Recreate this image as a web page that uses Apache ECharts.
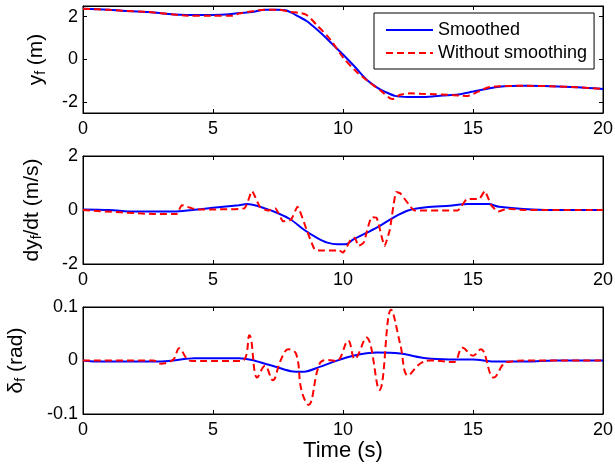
<!DOCTYPE html>
<html><head><meta charset="utf-8">
<script src="https://cdn.jsdelivr.net/npm/echarts@6/dist/echarts.min.js"></script>
<style>html,body{margin:0;padding:0;background:#fff}#c{width:615px;height:464px}</style>
</head><body><div id="c"></div>
<script>
// ---- Data ----
const xTicks = [0, 5, 10, 15, 20];
const yfTicks = [-2, 0, 2];
const dyTicks = [-2, 0, 2];
const dfTicks = [-0.1, 0, 0.1];

// Lateral position y_f (m)
const yfSmoothT = [0,1,1.5,2.5,3.5,4,5,5.5,6,6.5,7,7.5,7.8,8,8.3,8.6,9,9.4,10,10.5,10.9,11.3,11.6,12,12.5,13,13.5,14,14.5,15,15.5,16,17,18,19,20];
const yfSmoothV = [2.37,2.32,2.28,2.22,2.1,2.08,2.08,2.1,2.17,2.22,2.33,2.33,2.3,2.2,2.0,1.8,1.4,0.95,0.23,-0.4,-0.93,-1.3,-1.5,-1.7,-1.75,-1.75,-1.72,-1.67,-1.62,-1.5,-1.38,-1.27,-1.23,-1.25,-1.3,-1.38];
const yfRawT = [0,1,1.5,2.5,3.5,4,5,5.8,6,6.5,7,7.5,8,8.3,8.6,9,9.5,10,10.5,11,11.5,11.9,12.2,12.6,13,13.5,14,14.5,14.8,15.2,15.6,16,17,18,19,20];
const yfRawV = [2.37,2.32,2.28,2.22,2.1,2.05,2.05,2.05,2.15,2.25,2.33,2.33,2.22,2.18,2.08,1.6,0.95,0.1,-0.55,-1.05,-1.5,-1.85,-1.65,-1.58,-1.6,-1.62,-1.65,-1.68,-1.7,-1.5,-1.3,-1.25,-1.23,-1.25,-1.3,-1.38];

// Lateral velocity dy_f/dt (m/s)
const dySmoothT = [0,1,2,3.5,4.2,5,6,6.3,7,7.5,8,8.5,9,9.4,9.8,10.1,10.4,10.9,11.4,11.9,12.5,13.2,14.1,14.8,15.6,16,17.3,18.5,20];
const dySmoothV = [0.02,0,-0.06,-0.06,0,0.08,0.18,0.22,0.06,-0.12,-0.36,-0.73,-1.03,-1.21,-1.27,-1.27,-1.09,-0.85,-0.6,-0.3,-0.02,0.1,0.16,0.22,0.22,0.12,0.02,0,0];
const dyRawT = [0,2.8,3.6,3.8,4.2,4.5,6.2,6.5,6.8,7.1,7.4,7.7,8.0,8.25,8.6,8.9,9.1,9.85,10.0,10.3,10.45,10.6,10.8,11.1,11.3,11.6,11.8,12.05,12.2,12.6,12.75,14.4,14.75,15.25,15.45,15.7,15.97,16.3,17,20];
const dyRawV = [0,-0.15,-0.15,0.18,0.06,0.02,0.06,0.7,0.12,-0.02,0.06,-0.42,-0.36,0.12,-0.73,-1.45,-1.5,-1.5,-1.58,-1.09,-1.03,-1.33,-1.2,-0.27,-0.3,-1.33,-0.73,0.67,0.62,0.12,-0.02,-0.02,0.39,0.42,0.7,0.18,-0.06,0.05,0,0];

// Steering angle delta_f (rad)
const dfSmoothT = [0,0.5,2.7,3.3,4.3,6,6.5,7,7.5,8,8.5,9.1,9.6,10.4,11.3,12.2,13.2,14.1,15,15.8,17.1,18.1,20];
const dfSmoothV = [0,-0.002,-0.002,-0.001,0.004,0.004,0.001,-0.006,-0.013,-0.02,-0.021,-0.012,-0.003,0.009,0.015,0.013,0.004,0.002,0.002,-0.002,-0.002,0,0];
const dfRawT = [0,2.7,3.0,3.3,3.5,3.7,4.0,4.2,6.1,6.4,6.7,7.0,7.3,7.6,7.9,8.2,8.4,8.67,9.1,9.4,9.75,10.2,10.45,10.9,11.4,11.85,12.2,12.5,12.96,13.35,14.25,14.6,15.0,15.3,15.8,16.3,17.3,20];
const dfRawV = [0,0,-0.006,-0.003,0.003,0.023,0.003,-0.001,-0.001,0.047,-0.032,-0.01,-0.037,0,0.021,0.012,-0.055,-0.083,-0.006,0.001,-0.001,0.037,0.003,0.043,-0.055,0.095,0.031,-0.028,-0.006,0,-0.003,0.024,0.009,0.021,-0.032,-0.003,0,0];

const zip = (t, v) => t.map((x, i) => [x, v[i]]);

// ---- Layout ----
const FONT = 'Liberation Sans, Arial, sans-serif';
const grids = [
  {left: 83, top: 6, width: 520, height: 107},
  {left: 83, top: 156, width: 520, height: 108},
  {left: 83, top: 307, width: 520, height: 107}
];
const yRanges = [[-2.5, 2.5], [-2, 2], [-0.1, 0.1]];
const yTickSets = [yfTicks, dyTicks, dfTicks];
const yNames = ['y{sub|f} (m)', 'dy{sub|f}/dt (m/s)', '\u03b4{sub|f} (rad)'];
const yGaps = [35, 39, 55];

const xAxes = [], yAxes = [];
grids.forEach((g, i) => {
  xAxes.push({
    gridIndex: i, type: 'value', min: 0, max: 20, position: 'bottom',
    axisLine: {show: true, onZero: false, lineStyle: {color: '#000', width: 1}},
    axisTick: {show: true, inside: true, length: 4, customValues: xTicks, lineStyle: {color: '#000'}},
    axisLabel: {show: true, customValues: xTicks, color: '#000', fontSize: 18, fontFamily: FONT, margin: 7},
    splitLine: {show: false},
    name: i === 2 ? 'Time (s)' : '', nameLocation: 'middle', nameGap: 25,
    nameTextStyle: {color: '#000', fontSize: 22, fontFamily: FONT}
  });
  xAxes.push({
    gridIndex: i, type: 'value', min: 0, max: 20, position: 'top',
    axisLine: {show: true, onZero: false, lineStyle: {color: '#000', width: 1}},
    axisTick: {show: true, inside: true, length: 4, customValues: xTicks, lineStyle: {color: '#000'}},
    axisLabel: {show: false}, splitLine: {show: false}
  });
  yAxes.push({
    gridIndex: i, type: 'value', min: yRanges[i][0], max: yRanges[i][1], position: 'left',
    axisLine: {show: true, onZero: false, lineStyle: {color: '#000', width: 1}},
    axisTick: {show: true, inside: true, length: 4, customValues: yTickSets[i], lineStyle: {color: '#000'}},
    axisLabel: {show: true, customValues: yTickSets[i], color: '#000', fontSize: 18, fontFamily: FONT, margin: 5},
    splitLine: {show: false},
    name: yNames[i], nameLocation: 'middle', nameRotate: 90, nameGap: yGaps[i],
    nameTextStyle: {color: '#000', fontSize: 21, fontFamily: FONT,
      rich: {sub: {fontSize: 14, fontFamily: FONT, color: '#000', padding: [10, 0, 0, 0]}}}
  });
  yAxes.push({
    gridIndex: i, type: 'value', min: yRanges[i][0], max: yRanges[i][1], position: 'right',
    axisLine: {show: true, onZero: false, lineStyle: {color: '#000', width: 1}},
    axisTick: {show: true, inside: true, length: 4, customValues: yTickSets[i], lineStyle: {color: '#000'}},
    axisLabel: {show: false}, splitLine: {show: false}
  });
});

const blue = '#0000ff', red = '#ff0000';
const mk = (name, gi, data, color, dashed, smooth) => ({
  name, type: 'line', xAxisIndex: gi * 2, yAxisIndex: gi * 2, data,
  symbol: 'none', showSymbol: false, smooth: smooth, animation: false,
  lineStyle: {color, width: 2, type: dashed ? [7, 4] : 'solid'},
  itemStyle: {color}, z: dashed ? 3 : 2
});

const series = [
  mk('Smoothed', 0, zip(yfSmoothT, yfSmoothV), blue, false, 0.3),
  mk('Without smoothing', 0, zip(yfRawT, yfRawV), red, true, 0.3),
  mk('Smoothed', 1, zip(dySmoothT, dySmoothV), blue, false, 0.3),
  mk('Without smoothing', 1, zip(dyRawT, dyRawV), red, true, 0.15),
  mk('Smoothed', 2, zip(dfSmoothT, dfSmoothV), blue, false, 0.3),
  mk('Without smoothing', 2, zip(dfRawT, dfRawV), red, true, 0.4)
];

const chart = echarts.init(document.getElementById('c'), null, {renderer: 'canvas'});
chart.setOption({
  animation: false,
  backgroundColor: '#fff',
  grid: grids.map(g => Object.assign({show: true, borderColor: '#000', borderWidth: 1, backgroundColor: '#fff', containLabel: false, outerBoundsMode: 'none'}, g)),
  xAxis: xAxes,
  yAxis: yAxes,
  legend: {
    left: 374, top: 13, orient: 'vertical',
    data: ['Smoothed', 'Without smoothing'],
    backgroundColor: '#fff', borderColor: '#000', borderWidth: 1,
    padding: [8, 7, 7, 11], itemGap: 5, itemWidth: 47, itemHeight: 14,
    itemStyle: {opacity: 0},
    textStyle: {color: '#000', fontSize: 18, fontFamily: FONT}, z: 10
  },
  series
});
</script></body></html>
